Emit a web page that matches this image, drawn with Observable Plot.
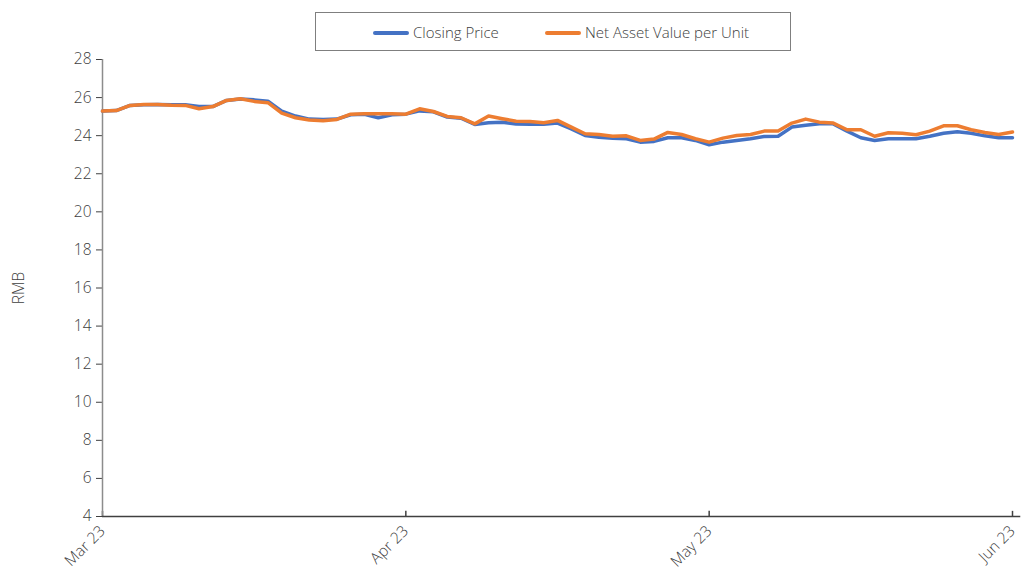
<!DOCTYPE html>
<html>
<head>
<meta charset="utf-8">
<script src="https://cdn.jsdelivr.net/npm/d3@7"></script>
<script src="https://cdn.jsdelivr.net/npm/@observablehq/plot@0.6"></script>
<style>
  html, body { margin: 0; padding: 0; background: #fff; }
  #wrap { position: relative; width: 1027px; height: 571px; font-family: "Open Sans", sans-serif; font-weight: 300; }
  #legend { position: absolute; left: 315px; top: 12px; width: 474px; height: 37px; border: 1px solid #7f7f7f; box-sizing: content-box; }
  .item { position: absolute; top: 9px; font-size: 15px; color: #404040; line-height: 20px; white-space: nowrap; }
  .sw { display: inline-block; width: 36px; height: 4px; border-radius: 2px; vertical-align: middle; margin-right: 4px; position: relative; top: -1px; }
</style>
</head>
<body>
<div id="wrap">
  <div id="chart"></div>
  <div id="legend"></div>
</div>
<script>
// Series names
const seriesNames = ["Closing Price", "Net Asset Value per Unit"];
const seriesColors = ["#4472C4", "#ED7D31"];

// Closing price (RMB), one value per observation, Mar–Jun 2023
const closing = [
  25.29, 25.32, 25.59, 25.62, 25.64, 25.62, 25.62, 25.53, 25.53, 25.85,
  25.92, 25.88, 25.81, 25.29, 25.03, 24.87, 24.85, 24.87, 25.10, 25.12,
  24.94, 25.10, 25.13, 25.30, 25.25, 24.98, 24.92, 24.59, 24.68, 24.71,
  24.61, 24.60, 24.60, 24.66, 24.36, 24.01, 23.92, 23.87, 23.84, 23.66,
  23.70, 23.89, 23.89, 23.75, 23.52, 23.66, 23.75, 23.84, 23.96, 23.97,
  24.45, 24.55, 24.62, 24.62, 24.24, 23.89, 23.75, 23.84, 23.84, 23.84,
  23.97, 24.13, 24.20, 24.13, 23.99, 23.89, 23.89
];

// Net asset value per unit (RMB)
const nav = [
  25.29, 25.32, 25.59, 25.64, 25.64, 25.60, 25.59, 25.41, 25.53, 25.85,
  25.94, 25.80, 25.73, 25.18, 24.94, 24.82, 24.78, 24.85, 25.13, 25.15,
  25.15, 25.15, 25.13, 25.41, 25.27, 25.01, 24.94, 24.62, 25.03, 24.89,
  24.76, 24.75, 24.68, 24.80, 24.45, 24.10, 24.06, 23.97, 23.99, 23.75,
  23.82, 24.17, 24.06, 23.84, 23.66, 23.87, 24.01, 24.06, 24.24, 24.24,
  24.66, 24.87, 24.71, 24.66, 24.31, 24.31, 23.97, 24.15, 24.13, 24.05,
  24.24, 24.52, 24.52, 24.31, 24.17, 24.06, 24.19
];

// X-axis tick labels and the observation index where each falls
const tickLabels = ["Mar 23", "Apr 23", "May 23", "Jun 23"];
const tickIndex = [0, 22, 44, 66];

// Y-axis ticks
const yTicks = [4, 6, 8, 10, 12, 14, 16, 18, 20, 22, 24, 26, 28];

const rows = [];
closing.forEach((v, i) => rows.push({i, value: v, series: seriesNames[0]}));
nav.forEach((v, i) => rows.push({i, value: v, series: seriesNames[1]}));

const labelOf = new Map(tickIndex.map((t, k) => [t, tickLabels[k]]));

const chart = Plot.plot({
  width: 1027,
  height: 571,
  marginTop: 59,
  marginBottom: 55,
  marginLeft: 102,
  marginRight: 15,
  style: {fontFamily: "'Open Sans', sans-serif", fontSize: "15.5px", fontWeight: 300, color: "#404040", background: "#fff"},
  x: {domain: [0, 66]},
  y: {domain: [4, 28]},
  color: {domain: seriesNames, range: seriesColors},
  marks: [
    Plot.axisY({ticks: yTicks, tickSize: 6, tickPadding: 5, stroke: "#404040",
                label: "RMB", labelAnchor: "center", labelArrow: "none", labelOffset: 90}),
    Plot.axisX({ticks: tickIndex, tickFormat: d => labelOf.get(d), tickSize: 0,
                tickRotate: -45, tickPadding: 12, label: null}),
    Plot.ruleX(tickIndex, {y1: 4, y2: 4.27, stroke: "#404040", strokeWidth: 1.5}),
    Plot.ruleX([0], {y1: 4, y2: 28, stroke: "#8c8c8c", strokeWidth: 1.5}),
    Plot.ruleY([4], {x1: 0, x2: 66.6, stroke: "#404040", strokeWidth: 1.5}),
    Plot.line(rows.filter(d => d.series === seriesNames[0]), {x: "i", y: "value", stroke: "series", strokeWidth: 3.5, strokeLinejoin: "round"}),
    Plot.line(rows.filter(d => d.series === seriesNames[1]), {x: "i", y: "value", stroke: "series", strokeWidth: 3.5, strokeLinejoin: "round"})
  ]
});
document.getElementById("chart").appendChild(chart);

// Legend
const legend = document.getElementById("legend");
const lefts = [57, 229];
seriesNames.forEach((name, k) => {
  const it = document.createElement("div");
  it.className = "item";
  it.style.left = lefts[k] + "px";
  it.innerHTML = `<span class="sw" style="background:${seriesColors[k]}"></span>${name}`;
  legend.appendChild(it);
});
</script>
</body>
</html>
